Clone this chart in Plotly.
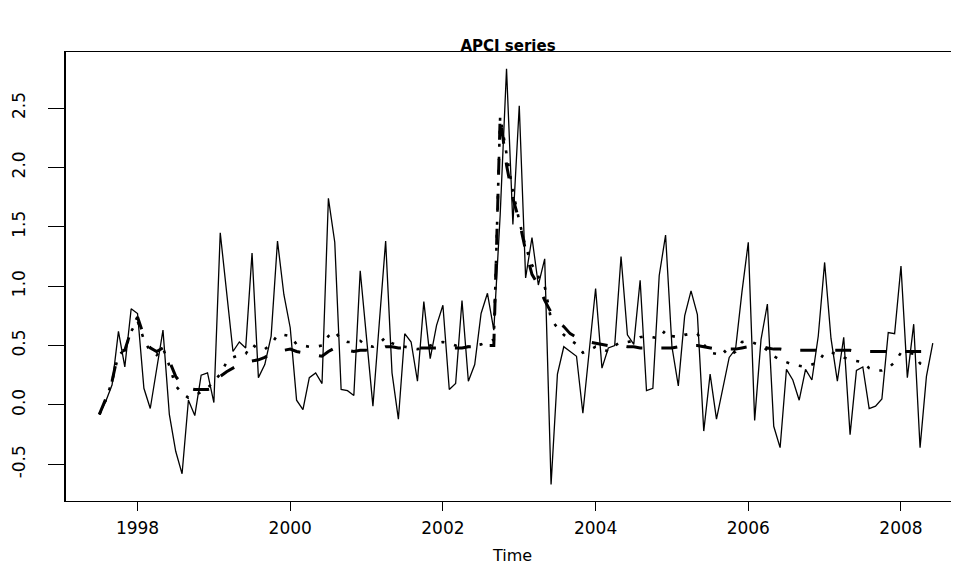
import plotly.graph_objects as go

# ---- data (monthly, starting July 1997) ----
start_year = 1997
start_month = 7

apci = [-0.08, 0.03, 0.17, 0.62, 0.32, 0.81, 0.77, 0.14, -0.03, 0.30,
        0.63, -0.08, -0.39, -0.58, 0.04, -0.09, 0.25, 0.27, 0.02, 1.45,
        0.95, 0.45, 0.53, 0.48, 1.28, 0.23, 0.34, 0.58, 1.38, 0.93,
        0.65, 0.04, -0.04, 0.23, 0.27, 0.18, 1.74, 1.37, 0.13, 0.12,
        0.08, 1.13, 0.56, -0.01, 0.69, 1.38, 0.27, -0.12, 0.60, 0.53,
        0.20, 0.87, 0.39, 0.67, 0.84, 0.13, 0.18, 0.88, 0.20, 0.34,
        0.77, 0.94, 0.63, 1.60, 2.83, 1.52, 2.52, 1.07, 1.41, 1.01,
        1.23, -0.67, 0.26, 0.49, 0.45, 0.41, -0.07, 0.43, 0.98, 0.31,
        0.48, 0.50, 1.25, 0.59, 0.51, 1.05, 0.12, 0.14, 1.09, 1.43,
        0.49, 0.16, 0.75, 0.96, 0.76, -0.22, 0.26, -0.12, 0.13, 0.40,
        0.47, 0.95, 1.37, -0.13, 0.55, 0.85, -0.18, -0.36, 0.30, 0.21,
        0.04, 0.30, 0.21, 0.58, 1.20, 0.56, 0.20, 0.57, -0.25, 0.29,
        0.32, -0.03, -0.01, 0.05, 0.61, 0.60, 1.17, 0.23, 0.68, -0.36,
        0.24, 0.52]

fit_dashed = [-0.08, 0.05, 0.20, 0.45, 0.46, 0.63, 0.74, 0.58, 0.48, 0.45,
              0.48, 0.37, 0.24, 0.17, 0.14, 0.13, 0.13, 0.13, 0.14, 0.24,
              0.28, 0.31, 0.34, 0.36, 0.37, 0.38, 0.40, 0.43, 0.45, 0.46,
              0.47, 0.45, 0.44, 0.43, 0.42, 0.41, 0.45, 0.48, 0.47, 0.46,
              0.45, 0.46, 0.46, 0.45, 0.47, 0.49, 0.49, 0.48, 0.48, 0.48,
              0.48, 0.48, 0.48, 0.48, 0.48, 0.48, 0.48, 0.48, 0.49, 0.49,
              0.50, 0.50, 0.50, 2.43, 2.02, 1.74, 1.55, 1.30, 1.10, 1.01,
              0.88, 0.78, 0.70, 0.66, 0.60, 0.57, 0.54, 0.53, 0.52, 0.51,
              0.50, 0.50, 0.50, 0.49, 0.49, 0.48, 0.48, 0.48, 0.48, 0.48,
              0.48, 0.49, 0.49, 0.50, 0.50, 0.49, 0.48, 0.47, 0.47, 0.47,
              0.47, 0.48, 0.49, 0.49, 0.49, 0.48, 0.47, 0.47, 0.46, 0.46,
              0.46, 0.46, 0.46, 0.46, 0.46, 0.46, 0.46, 0.46, 0.46, 0.45,
              0.45, 0.45, 0.45, 0.45, 0.45, 0.45, 0.45, 0.45, 0.45, 0.45,
              0.45]

fit_dotted = [-0.08, 0.04, 0.20, 0.42, 0.46, 0.62, 0.71, 0.55, 0.45, 0.42,
              0.48, 0.33, 0.16, 0.10, 0.06, 0.08, 0.11, 0.14, 0.20, 0.26,
              0.36, 0.40, 0.42, 0.43, 0.51, 0.47, 0.47, 0.51, 0.59, 0.59,
              0.58, 0.51, 0.50, 0.49, 0.49, 0.50, 0.58, 0.62, 0.55, 0.53,
              0.53, 0.54, 0.50, 0.49, 0.52, 0.57, 0.52, 0.50, 0.49, 0.48,
              0.47, 0.48, 0.50, 0.52, 0.53, 0.52, 0.50, 0.49, 0.49, 0.50,
              0.51, 0.53, 0.55, 2.43, 2.10, 1.80, 1.55, 1.33, 1.18, 1.08,
              1.00, 0.72, 0.65, 0.59, 0.55, 0.51, 0.44, 0.46, 0.49, 0.47,
              0.45, 0.50, 0.53, 0.53, 0.54, 0.57, 0.58, 0.57, 0.56, 0.63,
              0.58, 0.57, 0.59, 0.60, 0.60, 0.51, 0.44, 0.43, 0.47, 0.41,
              0.45, 0.53, 0.54, 0.52, 0.50, 0.46, 0.41, 0.38, 0.36, 0.34,
              0.33, 0.32, 0.34, 0.36, 0.44, 0.44, 0.43, 0.40, 0.38, 0.37,
              0.36, 0.31, 0.29, 0.29, 0.31, 0.36, 0.44, 0.44, 0.43, 0.35,
              0.33]

x_tick_vals = [1998, 2000, 2002, 2004, 2006, 2008]
x_tick_text = ["1998", "2000", "2002", "2004", "2006", "2008"]
y_tick_vals = [-0.5, 0.0, 0.5, 1.0, 1.5, 2.0, 2.5]
y_tick_text = ["-0.5", "0.0", "0.5", "1.0", "1.5", "2.0", "2.5"]


def time_index(n):
    t0 = start_year + (start_month - 1) / 12.0
    return [t0 + k / 12.0 for k in range(n)]


fig = go.Figure()
fig.add_trace(go.Scatter(x=time_index(len(apci)), y=apci, mode="lines",
                         line=dict(color="black", width=1.3),
                         showlegend=False, hoverinfo="skip"))
fig.add_trace(go.Scatter(x=time_index(len(fit_dashed)), y=fit_dashed, mode="lines",
                         line=dict(color="black", width=3, dash="16px,19px"),
                         showlegend=False, hoverinfo="skip"))
fig.add_trace(go.Scatter(x=time_index(len(fit_dotted)), y=fit_dotted, mode="lines",
                         line=dict(color="black", width=2.6, dash="3px,10px"),
                         showlegend=False, hoverinfo="skip"))

tick_font = dict(family="DejaVu Sans", size=17, color="black")

# the page body has an 8px margin, so the figure is sized to fill the rest
W, H = 951, 560

fig.update_layout(
    width=W, height=H,
    margin=dict(l=58, r=0, t=44, b=67, pad=0),
    paper_bgcolor="white", plot_bgcolor="white",
    title=dict(text="<b>APCI series</b>", xref="container", yref="container",
               x=500 / W, xanchor="center",
               y=1 - 38 / H, yanchor="middle", automargin=False,
               font=dict(family="DejaVu Sans", size=15, color="black")),
    xaxis=dict(range=[1997.063, 2008.76], showgrid=False, zeroline=False,
               automargin=False,
               showline=True, linecolor="black", linewidth=1, mirror=True,
               ticks="outside", ticklen=9, tickwidth=1, tickcolor="black",
               tickvals=x_tick_vals, ticktext=x_tick_text, tickfont=tick_font,
               ticklabelstandoff=3,
               title=dict(text="Time", font=dict(family="DejaVu Sans", size=16, color="black"),
                          standoff=12)),
    yaxis=dict(range=[-0.809, 2.972], showgrid=False, zeroline=False,
               automargin=False,
               showline=True, linecolor="black", linewidth=1.5,
               ticks="outside", ticklen=16, tickwidth=1, tickcolor="black",
               tickvals=y_tick_vals, ticktext=y_tick_text, tickfont=tick_font,
               tickangle=-90, ticklabelstandoff=16),
)

fig.write_html("out.html")
